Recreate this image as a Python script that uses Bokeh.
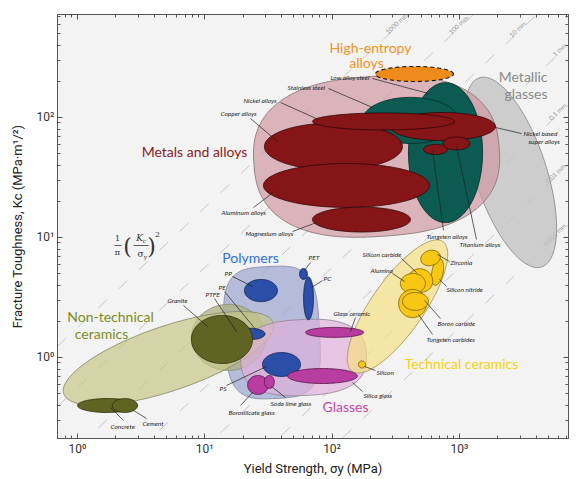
import math
import numpy as np
from bokeh.plotting import figure
from bokeh.models import LogAxis, FixedTicker, CustomJSTickFormatter, ColumnDataSource
from bokeh.core.properties import value
from bokeh.embed import file_html
from bokeh.resources import INLINE

# ---------------- data ----------------
x_ticks = [1, 10, 100, 1000]
y_ticks = [1, 10, 100]

crack_lengths_mm = [1000, 100, 10, 1, 0.1, 0.01, 0.001]
crack_label_names = ["1000 mm", "100 mm", "10 mm", "1 mm", "0.1 mm", "0.01 mm", "0.001 mm"]
crack_label_sigma = [321, 984, 2860, 6110, 5900, 5690, 5585]

# material-family envelopes (yield strength MPa, toughness MPa m^1/2)
env_names = ["Metallic glasses", "Metals and alloys", "Polymers", "Granite halo",
             "Non-technical ceramics", "Glasses", "Technical ceramics"]
env_sig_lo = [377, 24.2, 14.3, 7.85, 0.693, 19.1, 73.6]
env_sig_hi = [16830, 2065, 79.6, 30.0, 38.8, 186, 1449]
env_k_lo = [18.2, 10.2, 0.455, 0.780, 0.531, 0.482, 1.64]
env_k_hi = [66.8, 220, 5.73, 2.77, 1.82, 2.07, 4.32]
env_angle = [107, 4, 3, 0, 20, 3, 57]
env_power = [2, 2.5, 3.5, 2, 2, 2.6, 2]

# individual materials
mat_names = ["Low alloy steel", "Stainless steel", "Copper alloys", "Aluminum alloys",
             "Magnesium alloys", "Nickel based super alloys", "Nickel alloys",
             "Tungsten alloys", "Titanium alloys",
             "PP", "PET", "PC", "PTFE", "PE", "PS",
             "Granite", "Concrete", "Cement",
             "Glass ceramic", "Silica glass", "Borosilicate glass", "Soda lime glass",
             "Silicon", "Silicon nitride", "Zirconia", "Silicon carbide", "Alumina",
             "Tungsten carbides", "Boron carbide"]
mat_family = ["steel", "steel", "metal", "metal", "metal", "metal", "metal", "metal", "metal",
              "polymer", "polymer", "polymer", "polymer", "polymer", "polymer",
              "ntc", "ntc", "ntc",
              "glass", "glass", "glass", "glass",
              "tc", "tc", "tc", "tc", "tc", "tc", "tc"]
mat_sig_lo = [398, 173, 29.4, 28.9, 70.1, 283, 70.1, 523, 743,
              20.5, 55.5, 59.7, 14.8, 17.6, 28.4,
              7.85, 1.0, 1.88,
              61.8, 44.7, 21.7, 29.4,
              161, 519, 495, 398, 344, 333, 357]
mat_sig_hi = [1521, 984, 357, 582, 413, 1919, 916, 805, 1211,
              37.2, 64.0, 71.4, 22.0, 29.7, 56.5,
              23.7, 2.96, 2.96,
              177, 158, 31.6, 35.2,
              183, 873, 711, 614, 541, 552, 571]
mat_k_lo = [13.3, 60.7, 36.5, 17.8, 11.1, 64.3, 78.7, 49.1, 53.6,
            2.92, 4.47, 2.06, 1.33, 1.41, 0.695,
            0.891, 0.348, 0.348,
            1.47, 0.607, 0.492, 0.552,
            0.818, 4.66, 5.84, 3.48, 3.42, 2.15, 2.47]
mat_k_hi = [195, 147, 89.9, 41.3, 17.9, 110, 109, 59.6, 68.7,
            4.47, 5.52, 4.69, 1.82, 1.75, 1.10,
            2.24, 0.455, 0.455,
            1.78, 0.809, 0.708, 0.708,
            0.935, 5.71, 7.79, 5.52, 5.01, 3.69, 3.48]
mat_angle = [0, 0, 0, 0, 0, 0, 0, 0, 0,
             0, 0, 0, 0, 0, 0,
             0, 0, 0,
             0, 0, 0, 0,
             0, 80, 20, 40, 0, 0, 0]

hea_sig = [219, 898]
hea_k = [199.5, 266]

# ---------------- styles ----------------
env_fill = ["#c3c3c3", "#ce98a1", "#98a4ce", "#aeb183", "#c6c687", "#e0afda", "#f5df83"]
env_alpha = [0.8, 0.7, 0.7, 0.75, 0.7, 0.7, 0.7]
env_line = ["#8c8c8c", "#8c7c7e", "#8a8fa5", "#8c8f70", "#8c8c6e", "#9a8a98", "#a8985a"]
fam_fill = {"steel": "#0b5b52", "metal": "#861518", "polymer": "#2b4fa8", "ntc": "#5f6423",
            "glass": "#b93ca0", "tc": "#f8c714"}
fam_line = {"steel": "#032b26", "metal": "#2e0506", "polymer": "#0c1c4a", "ntc": "#2a2c0c",
            "glass": "#4a1040", "tc": "#6b5200"}

X_RANGE = (0.697, 7194.0)
Y_RANGE = (0.2113, 721.0)
FW, FH = 511, 424
B_LEFT, B_TOP, B_BOTTOM = 57, 14, 41
LX0, LX1 = math.log10(X_RANGE[0]), math.log10(X_RANGE[1])
LY0, LY1 = math.log10(Y_RANGE[0]), math.log10(Y_RANGE[1])
FX0 = B_LEFT
FY1 = B_TOP + FH


def pg(px, py):
    """picture pixel position -> data coordinates (annotation layout only)"""
    fx = (px - FX0) / FW
    fy = (FY1 - py) / FH
    return 10 ** (LX0 + fx * (LX1 - LX0)), 10 ** (LY0 + fy * (LY1 - LY0))


def shape(slo, shi, klo, khi, ang, power=2.0, n=180):
    cx = (math.log10(slo) + math.log10(shi)) / 2
    a = (math.log10(shi) - math.log10(slo)) / 2
    cy = (math.log10(klo) + math.log10(khi)) / 2
    b = (math.log10(khi) - math.log10(klo)) / 2
    t = np.linspace(0, 2 * np.pi, n)
    c, s = np.cos(t), np.sin(t)
    e = 2.0 / power
    u = a * np.sign(c) * np.abs(c) ** e
    v = b * np.sign(s) * np.abs(s) ** e
    th = math.radians(ang)
    X = cx + u * math.cos(th) - v * math.sin(th)
    Y = cy + u * math.sin(th) + v * math.cos(th)
    return list(10 ** X), list(10 ** Y)


p = figure(x_axis_type="log", y_axis_type="log", x_range=X_RANGE, y_range=Y_RANGE,
           frame_width=FW, frame_height=FH,
           min_border_left=B_LEFT, min_border_right=4, min_border_top=B_TOP,
           min_border_bottom=B_BOTTOM,
           output_backend="svg", toolbar_location=None,
           background_fill_color="#f3f3f3", border_fill_color="white")
p.grid.visible = False
p.outline_line_color = "#555555"

AX_FONT = "Roboto"
fmt_code = """
const sup = {"-1":"\u207b\u00b9","0":"\u2070","1":"\u00b9","2":"\u00b2","3":"\u00b3"};
const e = Math.round(Math.log10(tick));
return "10" + sup[String(e)];
"""
x_minor = [m * 10 ** e for e in range(-1, 4) for m in range(2, 10)]
y_minor = [m * 10 ** e for e in range(-1, 3) for m in range(2, 10)]


def style_axis(ax, show):
    ax.axis_line_color = "#555555"
    ax.major_tick_line_color = "#555555"
    ax.minor_tick_line_color = "#555555"
    ax.major_tick_in = 5
    ax.major_tick_out = 0
    ax.minor_tick_in = 3
    ax.minor_tick_out = 0
    if show:
        ax.major_label_text_font = AX_FONT
        ax.major_label_text_font_size = "12px"
        ax.major_label_text_color = "#333333"
        ax.major_label_standoff = 3
        ax.axis_label_text_font = AX_FONT
        ax.axis_label_text_font_size = "13px"
        ax.axis_label_text_font_style = "normal"
        ax.axis_label_text_color = "#222222"
    else:
        ax.major_label_text_font_size = "1px"
        ax.major_label_text_color = None
        ax.major_label_standoff = 0


p.xaxis[0].ticker = FixedTicker(ticks=x_ticks, minor_ticks=x_minor)
p.yaxis[0].ticker = FixedTicker(ticks=y_ticks, minor_ticks=y_minor)
p.xaxis[0].formatter = CustomJSTickFormatter(code=fmt_code)
p.yaxis[0].formatter = CustomJSTickFormatter(code=fmt_code)
style_axis(p.xaxis[0], True)
style_axis(p.yaxis[0], True)
p.xaxis[0].axis_label = "Yield Strength, σy (MPa)"
p.yaxis[0].axis_label = "Fracture Toughness, Kc (MPa·m¹/²)"
p.xaxis[0].axis_label_standoff = 2
p.yaxis[0].axis_label_standoff = 9
top_ax = LogAxis(ticker=FixedTicker(ticks=x_ticks, minor_ticks=x_minor))
right_ax = LogAxis(ticker=FixedTicker(ticks=y_ticks, minor_ticks=y_minor))
style_axis(top_ax, False)
style_axis(right_ax, False)
p.add_layout(top_ax, "above")
p.add_layout(right_ax, "right")

# ---- design lines (K/sigma = sqrt(pi * a)) ----
xs_l, ys_l = [], []
for L in crack_lengths_mm:
    C = math.sqrt(math.pi * L / 1000.0)
    xs_l.append([X_RANGE[0], X_RANGE[1]])
    ys_l.append([C * X_RANGE[0], C * X_RANGE[1]])
p.multi_line(xs_l, ys_l, line_color="#c6c6c6", line_width=1, line_dash="12 16")

line_angle = math.atan2(FH / (LY1 - LY0), FW / (LX1 - LX0))
lab_x = crack_label_sigma
lab_y = [math.sqrt(math.pi * L / 1000.0) * s * 10 ** 0.03 for L, s in zip(crack_lengths_mm, crack_label_sigma)]
p.text(x=lab_x, y=lab_y, text=crack_label_names, angle=line_angle, text_align="center",
       text_baseline="middle", text_font=value("Lato"), text_font_size="6.5px", text_color="#9c9c9c")

# ---- envelopes ----
exs, eys = [], []
for i in range(len(env_names)):
    xx, yy = shape(env_sig_lo[i], env_sig_hi[i], env_k_lo[i], env_k_hi[i], env_angle[i], env_power[i])
    exs.append(xx)
    eys.append(yy)
env_src = ColumnDataSource(dict(xs=exs, ys=eys, fill=env_fill, alpha=env_alpha, line=env_line))
p.patches("xs", "ys", source=env_src, fill_color="fill", fill_alpha="alpha", line_color="line",
          line_width=0.9)

# ---- materials ----
mxs, mys = [], []
for i in range(len(mat_names)):
    xx, yy = shape(mat_sig_lo[i], mat_sig_hi[i], mat_k_lo[i], mat_k_hi[i], mat_angle[i])
    mxs.append(xx)
    mys.append(yy)
n_met = 9
met_src = ColumnDataSource(dict(xs=mxs[:n_met], ys=mys[:n_met],
                                fill=[fam_fill[f] for f in mat_family[:n_met]],
                                line=[fam_line[f] for f in mat_family[:n_met]]))
oth_src = ColumnDataSource(dict(xs=mxs[n_met:], ys=mys[n_met:],
                                fill=[fam_fill[f] for f in mat_family[n_met:]],
                                line=[fam_line[f] for f in mat_family[n_met:]]))
p.patches("xs", "ys", source=met_src, fill_color="fill", line_color="line", line_width=0.8)
hx, hy = shape(hea_sig[0], hea_sig[1], hea_k[0], hea_k[1], 0)
p.patch(hx, hy, fill_color="#ec8a1c", line_color="#111111", line_width=1.1, line_dash="4 3")
p.patches("xs", "ys", source=oth_src, fill_color="fill", line_color="line", line_width=0.8)

# ---- leader lines (picture-pixel layout positions) ----
leaders = [((372, 78), (428, 93)), ((328, 88), (372, 107)), ((280, 102), (318, 119)),
           ((250, 118), (277, 141)), ((253, 207), (274, 191)), ((292, 231), (316, 222)),
           ((443, 230), (432, 150)), ((476, 239), (456, 146)), ((521, 133), (495, 127)),
           ((232, 276), (252, 286)), ((310, 262), (304, 270)), ((322, 280), (311, 287)),
           ((224, 291), (256, 330)), ((214, 298), (236, 331)), ((226, 385), (266, 366)),
           ((183, 305), (207, 326)), ((123, 420), (110, 407)), ((146, 418), (133, 410)),
           ((240, 405), (252, 392)), ((285, 397), (271, 386)), ((355, 317), (350, 331)),
           ((362, 391), (352, 382)), ((375, 370), (364, 366)), ((401, 258), (416, 272)),
           ((392, 273), (404, 281)), ((449, 261), (437, 254)), ((446, 286), (439, 279)),
           ((440, 318), (424, 300)), ((432, 334), (418, 314))]
sx0, sy0, sx1, sy1 = [], [], [], []
for (a, b) in leaders:
    x0, y0 = pg(*a)
    x1, y1 = pg(*b)
    sx0.append(x0); sy0.append(y0); sx1.append(x1); sy1.append(y1)
p.segment(x0=sx0, y0=sy0, x1=sx1, y1=sy1, line_color="#1e1e1e", line_width=0.7)

small = [("Low alloy steel", 330, 77), ("Stainless steel", 287, 87), ("Nickel alloys", 243, 100),
         ("Copper alloys", 220, 113), ("Aluminum alloys", 221, 212), ("Magnesium alloys", 245, 233),
         ("Tungsten alloys", 426, 236), ("Titanium alloys", 459, 244), ("Nickel based", 523, 133),
         ("super alloys", 528, 141), ("PP", 224, 273), ("PET", 308, 257), ("PC", 323, 278),
         ("PE", 218, 287), ("PTFE", 205, 294), ("PS", 219, 388), ("Granite", 167, 300),
         ("Concrete", 110, 426), ("Cement", 142, 423), ("Borosilicate glass", 228, 412),
         ("Soda lime glass", 270, 403), ("Glass ceramic", 333, 313), ("Silica glass", 363, 395),
         ("Silicon", 376, 372), ("Silicon carbide", 362, 254), ("Alumina", 370, 270),
         ("Zirconia", 450, 262), ("Silicon nitride", 446, 289), ("Boron carbide", 437, 323),
         ("Tungsten carbides", 426, 339)]
stx, sty = zip(*[pg(a, b) for (_, a, b) in small])
p.text(x=list(stx), y=list(sty), text=[s[0] for s in small], text_align="left", text_baseline="middle",
       text_font=value("Lato"), text_font_style="italic", text_font_size="6.5px", text_color="#1e1e1e")

groups = [("Metals and alloys", 194, 151, "center", "#8b1a1a"),
          ("High-entropy", 370, 47, "center", "#f0921e"),
          ("alloys", 366, 62, "center", "#f0921e"),
          ("Metallic", 547, 76, "right", "#8a8a8a"),
          ("glasses", 547, 93, "right", "#8a8a8a"),
          ("Polymers", 250, 257, "center", "#2f6fd8"),
          ("Non-technical", 110, 316, "center", "#7d8c1e"),
          ("ceramics", 101, 333, "center", "#7d8c1e"),
          ("Glasses", 345, 406, "center", "#c447aa"),
          ("Technical ceramics", 461, 363, "center", "#f2d214")]
for (t, a, b, al, col) in groups:
    gx, gy = pg(a, b)
    p.text(x=[gx], y=[gy], text=[t], text_align=al, text_baseline="middle",
           text_font=value("Lato"), text_font_size="14px", text_color=col)

# ---- formula (1/pi)(Kc/sigma_y)^2 ----
formula = [("1", 117, 238, "8px", "normal"), ("π", 117, 252, "8px", "normal"),
           ("(", 127, 246, "22px", "normal"), (")", 151, 246, "22px", "normal"),
           ("K", 139, 237, "9px", "italic"), ("c", 144, 240, "6px", "italic"),
           ("σ", 140, 253, "9px", "normal"), ("y", 145, 256, "6px", "normal"),
           ("2", 157, 234, "8px", "normal")]
for (t, a, b, fs, st) in formula:
    fx, fy = pg(a, b)
    p.text(x=[fx], y=[fy], text=[t], text_align="center", text_baseline="middle",
           text_font=value("DejaVu Serif"), text_font_size=fs, text_font_style=st, text_color="#333333")
bars = [((114, 245), (121, 245)), ((133, 245), (148, 245))]
for (a, b) in bars:
    x0, y0 = pg(*a)
    x1, y1 = pg(*b)
    p.segment(x0=[x0], y0=[y0], x1=[x1], y1=[y1], line_color="#333333", line_width=0.8)

open("out.html", "w").write(file_html(p, INLINE))
